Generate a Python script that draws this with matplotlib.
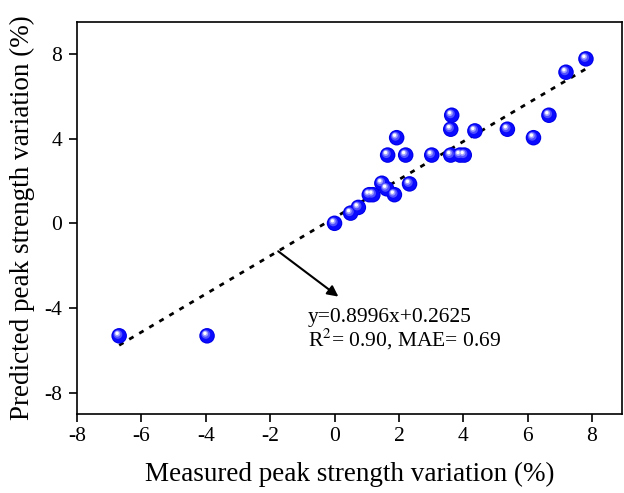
import matplotlib
matplotlib.use("Agg")
import matplotlib.pyplot as plt
import numpy as np
from matplotlib.transforms import ScaledTranslation

plt.rcParams['font.family'] = ['Liberation Serif', 'DejaVu Serif']
plt.rcParams['mathtext.fontset'] = 'stix'
plt.rcParams['axes.unicode_minus'] = False

measured = [0.00, 0.50, 0.74, 1.08, 1.19, 1.47, 1.62, 1.86, 2.33, 1.93, 1.65, 2.21,
            3.02, 3.61, 3.90, 4.03, 3.64, 3.61, 4.36, 5.37, 6.18, 6.66, 7.19, 7.81,
            -6.69, -3.96]
predicted = [0.00, 0.48, 0.75, 1.35, 1.35, 1.89, 1.63, 1.35, 1.86, 4.04, 3.22, 3.22,
             3.22, 3.22, 3.22, 3.22, 5.10, 4.44, 4.36, 4.44, 4.04, 5.10, 7.13, 7.76,
             -5.31, -5.31]
slope = 0.8996
intercept = 0.2625
x_ticks = [-8, -6, -4, -2, 0, 2, 4, 6, 8]
y_ticks = [-8, -4, 0, 4, 8]
eq_text = "y=0.8996x+0.2625"
stat_text = r"R$^2$= 0.90, MAE= 0.69"

W, H = 624, 493
fig = plt.figure(figsize=(W / 100, H / 100), dpi=100)
l, r, t, b = 77, 622, 22, 414
ax = fig.add_axes([l / W, 1 - b / H, (r - l) / W, (b - t) / H])

# fit line
xs = np.array([min(measured), max(measured)])
ax.plot(xs, slope * xs + intercept, color='black', lw=2.0,
        linestyle=(0, (1.8, 2.4)), zorder=2)

# 3D-looking balls: base + highlight layers
ax.scatter(measured, predicted, s=125, color='#0000e6', edgecolors='none', zorder=3)
ax.scatter(measured, predicted, s=95, color='#0a0aff', edgecolors='none', zorder=4)
layers = [(40, '#5050ff', -0.9, 1.0), (18, '#a0a0ff', -1.3, 1.5), (6, '#ffffff', -1.5, 1.8)]
for s, c, dx, dy in layers:
    tr = ax.transData + ScaledTranslation(dx / 72, dy / 72, fig.dpi_scale_trans)
    ax.scatter(measured, predicted, s=s, color=c, edgecolors='none', zorder=5,
               transform=tr)

ax.annotate('', xy=(0.12, -3.46), xytext=(-1.75, -1.32),
            arrowprops=dict(arrowstyle='-|>', color='black', lw=1.5,
                            mutation_scale=16, shrinkA=0, shrinkB=0))
ax.text(-0.83, -4.43, eq_text, fontsize=15.5, va='center', ha='left')
ax.text(-0.83, -5.50, stat_text, fontsize=15.5, va='center', ha='left')

ax.set_xlim(-8, 8.93)
ax.set_ylim(-9, 9.5)
ax.set_xticks(x_ticks)
ax.set_yticks(y_ticks)
ax.tick_params(direction='out', length=5.5, width=1.2, labelsize=15.5)
ax.tick_params(axis='y', pad=5)
ax.tick_params(axis='x', pad=4)
for sp in ax.spines.values():
    sp.set_linewidth(1.2)
ax.set_xlabel('Measured peak strength variation (%)', fontsize=19.5, labelpad=11)
ax.set_ylabel('Predicted peak strength variation (%)', fontsize=19.5, labelpad=7)

fig.savefig('out.png', dpi=100)
